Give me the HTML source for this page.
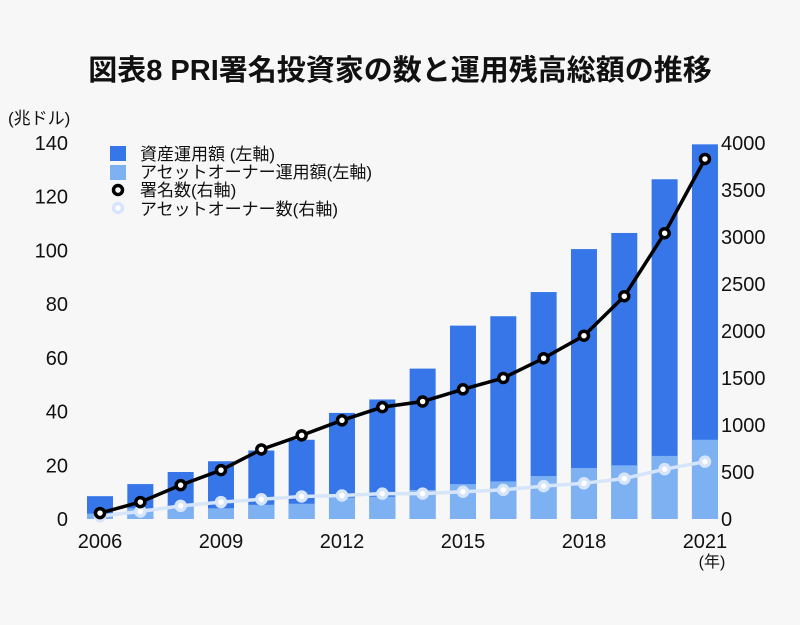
<!DOCTYPE html>
<html><head><meta charset="utf-8"><style>
body{margin:0;background:#f7f7f7;}
svg{display:block;font-family:"Liberation Sans","Noto Sans CJK JP",sans-serif;}
</style></head><body>
<svg id="chart" width="800" height="625" viewBox="0 0 800 625">
<rect width="800" height="625" fill="#f7f7f7"/>
<text x="400" y="80" text-anchor="middle" font-size="29" font-weight="bold" fill="#111">図表8 PRI署名投資家の数と運用残高総額の推移</text>
<text x="8" y="124" font-size="17" fill="#111">(兆ドル)</text>
<text x="712" y="567" text-anchor="middle" font-size="16" fill="#111">(年)</text>
<g id="yl"></g><g id="yr"></g><g id="xl"></g><g id="bars"></g><g id="lines"></g>
<g>
<rect x="110" y="146" width="16" height="15" fill="#3676e8"/>
<text x="140" y="160" font-size="17" fill="#111">資産運用額 (左軸)</text>
<rect x="110" y="165" width="16" height="15" fill="#7eb1f2"/>
<text x="140" y="178" font-size="17" fill="#111">アセットオーナー運用額(左軸)</text>
<circle cx="118" cy="190" r="4.5" fill="#fff" stroke="#000" stroke-width="3.5"/>
<text x="140" y="196" font-size="17" fill="#111">署名数(右軸)</text>
<circle cx="118" cy="208" r="4.5" fill="#fff" stroke="#d6e5fa" stroke-width="3.5"/>
<text x="140" y="215" font-size="17" fill="#111">アセットオーナー数(右軸)</text>
</g>
</svg>
<script>
const years=[2006,2007,2008,2009,2010,2011,2012,2013,2014,2015,2016,2017,2018,2019,2020,2021];
const totalAum=[8.5,13,17.5,21.5,25.5,29.5,39.5,44.5,56,72,75.5,84.5,100.5,106.5,126.5,139.5];
const ownerAum=[2,4,5,4,5.3,5.7,8,8.3,10.8,13,14,16,19,20,23.5,29.5];
const signatories=[63,180,360,520,740,890,1050,1190,1250,1380,1500,1710,1950,2370,3040,3830];
const owners=[30,80,140,180,210,240,250,270,270,290,310,350,380,430,530,610];
const leftTicks=[0,20,40,60,80,100,120,140];
const rightTicks=[0,500,1000,1500,2000,2500,3000,3500,4000];
const xTickYears=[2006,2009,2012,2015,2018,2021];
const NS="http://www.w3.org/2000/svg";
const y0=519,yTop=143;
const yL=v=>y0-(v/140)*(y0-yTop);
const yR=v=>y0-(v/4000)*(y0-yTop);
const xS=i=>100+i*40.33;
function mk(tag,attrs,parent,txt){const e=document.createElementNS(NS,tag);for(const k in attrs)e.setAttribute(k,attrs[k]);if(txt!==undefined)e.textContent=txt;document.getElementById(parent).appendChild(e);return e;}
leftTicks.forEach(v=>{const t=mk('text',{x:68,y:yL(v)+7,'text-anchor':'end','font-size':20,fill:'#111'},'yl',v);

});
rightTicks.forEach(v=>{const t=mk('text',{x:721,y:yR(v)+7,'font-size':20,fill:'#111'},'yr',v);

});
xTickYears.forEach(yr=>{const i=years.indexOf(yr);const t=mk('text',{x:xS(i),y:548,'text-anchor':'middle','font-size':20,fill:'#111'},'xl',yr);

});
const bw=26;
years.forEach((yr,i)=>{
const b=mk('rect',{x:xS(i)-bw/2,y:yL(totalAum[i]),width:bw,height:y0-yL(totalAum[i]),fill:'#3676e8'},'bars');


const o=mk('rect',{x:xS(i)-bw/2,y:yL(ownerAum[i]),width:bw,height:y0-yL(ownerAum[i]),fill:'#7eb1f2'},'bars');


});
function line(data,color,name){
const p=mk('polyline',{points:data.map((v,i)=>xS(i)+','+yR(v)).join(' '),fill:'none',stroke:color,'stroke-width':3.5},'lines');


data.forEach((v,i)=>{const c=mk('circle',{cx:xS(i),cy:yR(v),r:4.5,fill:'#fff',stroke:color,'stroke-width':3.5},'lines');

});
}
line(owners,'#d6e5fa','owners');
line(signatories,'#000','signatories');
</script>
</body></html>
